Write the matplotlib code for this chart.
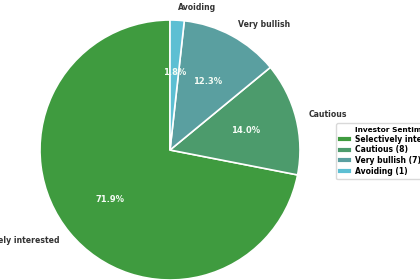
import matplotlib
matplotlib.use('Agg')
import matplotlib.pyplot as plt
from matplotlib.lines import Line2D

labels = ['Selectively interested', 'Cautious', 'Very bullish', 'Avoiding']
counts = [41, 8, 7, 1]
colors = ['#3f9b3f', '#4c9b6c', '#5a9fa0', '#5dbfd3']

fig = plt.figure(figsize=(4.2, 2.8), dpi=100)
ax = fig.add_axes([7.5/420, -32.5/280, 325/420, 325/280])

wedges, texts, autotexts = ax.pie(
    counts, labels=labels, colors=colors, startangle=90,
    autopct='%1.1f%%', pctdistance=0.6, labeldistance=1.1,
    wedgeprops=dict(edgecolor='white', linewidth=1.2),
    textprops=dict(fontsize=5.6, fontweight='bold', color='#333333'))
for t in autotexts:
    t.set_color('#f4fbf4')
    t.set_fontsize(6)
    t.set_fontweight('bold')
ax.set_aspect('equal')

handles = [Line2D([0], [0], color=c, lw=3) for c in colors]
leg_labels = [labels[0]] + ['%s (%d)' % (l, n) for l, n in zip(labels[1:], counts[1:])]
leg = fig.legend(handles, leg_labels, title='Investor Sentiment',
                 loc='upper left', bbox_to_anchor=(336/420, 1 - 123/280),
                 prop=dict(size=5.5, weight='bold'), title_fontproperties=dict(size=5.3, weight='bold'),
                 frameon=True, handlelength=1.2, handletextpad=0.8, borderpad=0.5,
                 labelspacing=0.22, borderaxespad=0)
leg.get_frame().set_edgecolor('#d0d0d0')

fig.savefig('out.png', dpi=100)
